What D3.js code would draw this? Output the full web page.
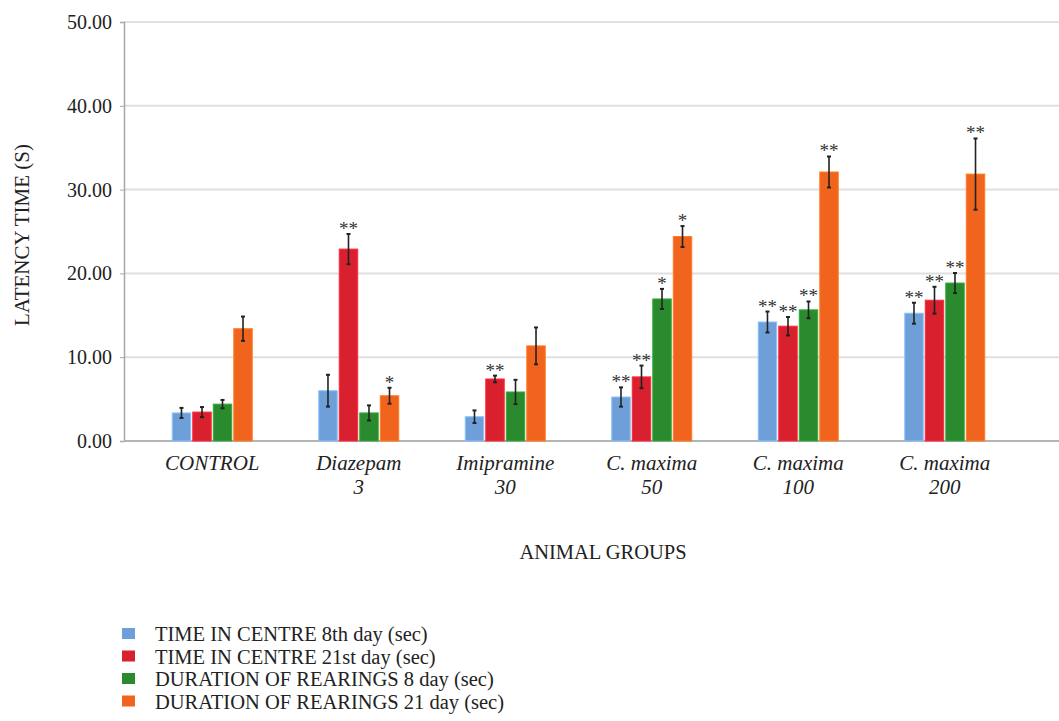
<!DOCTYPE html>
<html>
<head>
<meta charset="utf-8">
<script src="https://cdn.jsdelivr.net/npm/d3@7"></script>
<style>
  html, body { margin: 0; padding: 0; background: #fff; }
  svg { display: block; }
</style>
</head>
<body>
<svg id="chart" width="1059" height="721"></svg>
<script>
// Groups (two-line labels) and series
const groups = ["CONTROL", "Diazepam\n3", "Imipramine\n30", "C. maxima\n50", "C. maxima\n100", "C. maxima\n200"];
const seriesNames = [
  "TIME IN CENTRE 8th day (sec)",
  "TIME IN CENTRE 21st day (sec)",
  "DURATION OF REARINGS 8 day (sec)",
  "DURATION OF REARINGS 21 day (sec)"
];
const seriesColors = ["#6f9fd8", "#d9202e", "#2a8a2e", "#f0641e"];

// Means per series, one value per group
const centre8 = [3.35, 6.0, 2.9, 5.25, 14.2, 15.25];
const centre21 = [3.45, 22.9, 7.4, 7.65, 13.7, 16.8];
const rearing8 = [4.4, 3.35, 5.85, 16.95, 15.65, 18.85];
const rearing21 = [13.4, 5.4, 11.35, 24.4, 32.1, 31.85];

// Error bar half-widths
const centre8Err = [0.6, 1.9, 0.75, 1.15, 1.25, 1.25];
const centre21Err = [0.6, 1.8, 0.4, 1.35, 1.1, 1.6];
const rearing8Err = [0.5, 0.9, 1.45, 1.2, 1.0, 1.2];
const rearing21Err = [1.45, 0.95, 2.2, 1.25, 1.85, 4.25];

// Significance marks
const centre8Sig = ["", "", "", "**", "**", "**"];
const centre21Sig = ["", "**", "**", "**", "**", "**"];
const rearing8Sig = ["", "", "", "*", "**", "**"];
const rearing21Sig = ["", "*", "", "*", "**", "**"];

const yTicks = [0, 10, 20, 30, 40, 50];

const seriesValues = [centre8, centre21, rearing8, rearing21];
const seriesErrors = [centre8Err, centre21Err, rearing8Err, rearing21Err];
const seriesSig = [centre8Sig, centre21Sig, rearing8Sig, rearing21Sig];

const FONT = "'Liberation Serif'";
const svg = d3.select("#chart");

const axisLeft = 124, plotRight = 1059;
const y = d3.scaleLinear().domain([0, 50]).range([441, 22]);
const x0 = d3.scaleBand().domain(groups).range([139, 1018]).paddingInner(0).paddingOuter(0);
const x1 = d3.scaleBand().domain(d3.range(4)).range([x0.bandwidth() / 2 - 40, x0.bandwidth() / 2 + 40]).paddingInner(0.1).paddingOuter(0);

// Gridlines
svg.append("g")
  .selectAll("line")
  .data(yTicks.filter(t => t > 0))
  .join("line")
  .attr("x1", axisLeft).attr("x2", plotRight)
  .attr("y1", d => y(d)).attr("y2", d => y(d))
  .attr("stroke", "#e0e0e0").attr("stroke-width", 2);

// Y axis
const yAxis = svg.append("g")
  .attr("transform", `translate(${axisLeft},0)`)
  .call(d3.axisLeft(y).tickValues(yTicks).tickFormat(d3.format(".2f")).tickSize(4).tickPadding(8));
yAxis.select(".domain").attr("stroke", "#a8a8a8").attr("stroke-width", 1.5);
yAxis.selectAll(".tick line").attr("stroke", "#a8a8a8");
yAxis.selectAll(".tick text")
  .style("font-family", FONT).style("font-size", "20px").attr("fill", "#222");

// Baseline
svg.append("line")
  .attr("x1", axisLeft).attr("x2", plotRight)
  .attr("y1", y(0)).attr("y2", y(0))
  .attr("stroke", "#b4b4b4").attr("stroke-width", 2);

// Bars, error bars and significance marks
const gGroups = svg.append("g").selectAll("g")
  .data(groups)
  .join("g")
  .attr("transform", d => `translate(${x0(d)},0)`);

gGroups.each(function(gname, gi) {
  const g = d3.select(this);
  for (let s = 0; s < 4; s++) {
    const v = seriesValues[s][gi];
    const e = seriesErrors[s][gi];
    const bx = x1(s), bw = x1.bandwidth();
    const cx = bx + bw / 2;
    const fill = seriesColors[s];
    g.append("rect")
      .attr("x", bx).attr("y", y(v))
      .attr("width", bw).attr("height", y(0) - y(v))
      .attr("fill", fill)
      .attr("stroke", d3.color(fill).brighter(0.6)).attr("stroke-width", 1);
    // error bar
    g.append("line")
      .attr("x1", cx).attr("x2", cx)
      .attr("y1", y(v + e)).attr("y2", y(v - e))
      .attr("stroke", "#222").attr("stroke-width", 1.6);
    [v + e, v - e].forEach(t => {
      g.append("line")
        .attr("x1", cx - 2).attr("x2", cx + 2)
        .attr("y1", y(t)).attr("y2", y(t))
        .attr("stroke", "#222").attr("stroke-width", 2);
    });
    const sig = seriesSig[s][gi];
    if (sig) {
      g.append("text")
        .attr("x", cx).attr("y", y(v + e) + 1)
        .attr("text-anchor", "middle")
        .style("font-family", FONT).style("font-size", "19px")
        .attr("fill", "#333")
        .text(sig);
    }
  }
});

// Category labels
svg.append("g").selectAll("text")
  .data(groups)
  .join("text")
  .attr("x", d => x0(d) + x0.bandwidth() / 2)
  .attr("y", 470)
  .attr("text-anchor", "middle")
  .style("font-family", FONT).style("font-size", "21px").style("font-style", "italic")
  .attr("fill", "#222")
  .each(function(d) {
    const lines = d.split("\n");
    d3.select(this).selectAll("tspan")
      .data(lines)
      .join("tspan")
      .attr("x", x0(d) + x0.bandwidth() / 2)
      .attr("dy", (l, i) => i === 0 ? 0 : 24)
      .text(l => l);
  });

// Axis titles
svg.append("text")
  .attr("x", 603).attr("y", 559)
  .attr("text-anchor", "middle")
  .style("font-family", FONT).style("font-size", "20.5px")
  .attr("fill", "#222")
  .text("ANIMAL GROUPS");

svg.append("text")
  .attr("transform", "translate(29,235) rotate(-90)")
  .attr("text-anchor", "middle")
  .style("font-family", FONT).style("font-size", "21px")
  .attr("fill", "#222")
  .text("LATENCY TIME (S)");

// Legend
const legend = svg.append("g").selectAll("g")
  .data(seriesNames)
  .join("g")
  .attr("transform", (d, i) => `translate(122,${634 + i * 22.5})`);
legend.append("rect")
  .attr("x", 0).attr("y", -6).attr("width", 13).attr("height", 11)
  .attr("fill", (d, i) => seriesColors[i]);
legend.append("text")
  .attr("x", 33).attr("y", 7)
  .style("font-family", FONT).style("font-size", "20.5px")
  .attr("fill", "#222")
  .text(d => d);
</script>
</body>
</html>
